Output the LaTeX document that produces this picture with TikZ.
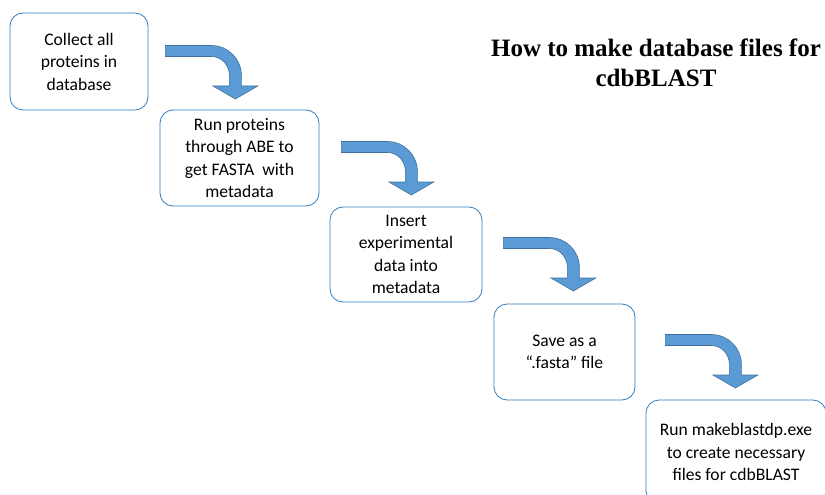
\documentclass[tikz,border=0pt]{standalone}
\usepackage{fontspec}
\setmainfont{Carlito}
\newfontfamily\titlefont{Liberation Serif}
\usetikzlibrary{calc}
\definecolor{boxblue}{RGB}{46,125,196}
\definecolor{arrowfill}{RGB}{91,155,213}
\definecolor{arrowline}{RGB}{65,113,156}
\tikzset{
  stepbox/.style={draw=boxblue, line width=0.8pt, rounded corners=13pt, fill=white,
    align=center, font=\fontsize{17.6}{22.5}\selectfont, inner sep=0pt},
  bend/.pic={
    \draw[fill=arrowfill, draw=arrowline, line width=0.6pt]
      (0,-5.5) -- (46,-5.5) .. controls (62.6,-5.5) and (76,7.9) .. (76,24.5)
      -- (76,35) -- (92.5,35) -- (70,48) -- (47.5,35) -- (64,35) -- (64,24.5)
      .. controls (64,14) and (56,5.5) .. (46,5.5) -- (0,5.5) -- cycle;
  }
}
\begin{document}
\begin{tikzpicture}[x=1pt,y=-1pt]
\useasboundingbox (0,0) rectangle (825,495);
% the steps
\node[stepbox, minimum width=138pt, minimum height=97pt] (collect) at (79,61.5) {Collect all\\proteins in\\database};
\node[stepbox, minimum width=159pt, minimum height=96pt] (abe) at (239.5,158) {Run proteins\\through ABE to\\get FASTA~ with\\metadata};
\node[stepbox, minimum width=152pt, minimum height=95pt] (insert) at (406,254.5) {Insert\\experimental\\data into\\metadata};
\node[stepbox, minimum width=141pt, minimum height=96pt] (save) at (564.5,352) {Save as a\\“.fasta” file};
\node[stepbox, minimum width=180pt, minimum height=104pt] (run) at (736,452) {Run makeblastdp.exe\\to create necessary\\files for cdbBLAST};
% title
\node[align=center, font=\titlefont\bfseries\fontsize{25}{30}\selectfont] (title) at (656,63) {How to make database files for\\cdbBLAST};
% bent arrows between the steps
\coordinate (a1) at ($(collect.east)+(17,-10.5)$);
\coordinate (a2) at ($(abe.east)+(22,-11)$);
\coordinate (a3) at ($(insert.east)+(21,-11.5)$);
\coordinate (a4) at ($(save.east)+(30,-12)$);
\pic at (a1) {bend};
\pic at (a2) {bend};
\pic at (a3) {bend};
\pic at (a4) {bend};
\end{tikzpicture}
\end{document}
